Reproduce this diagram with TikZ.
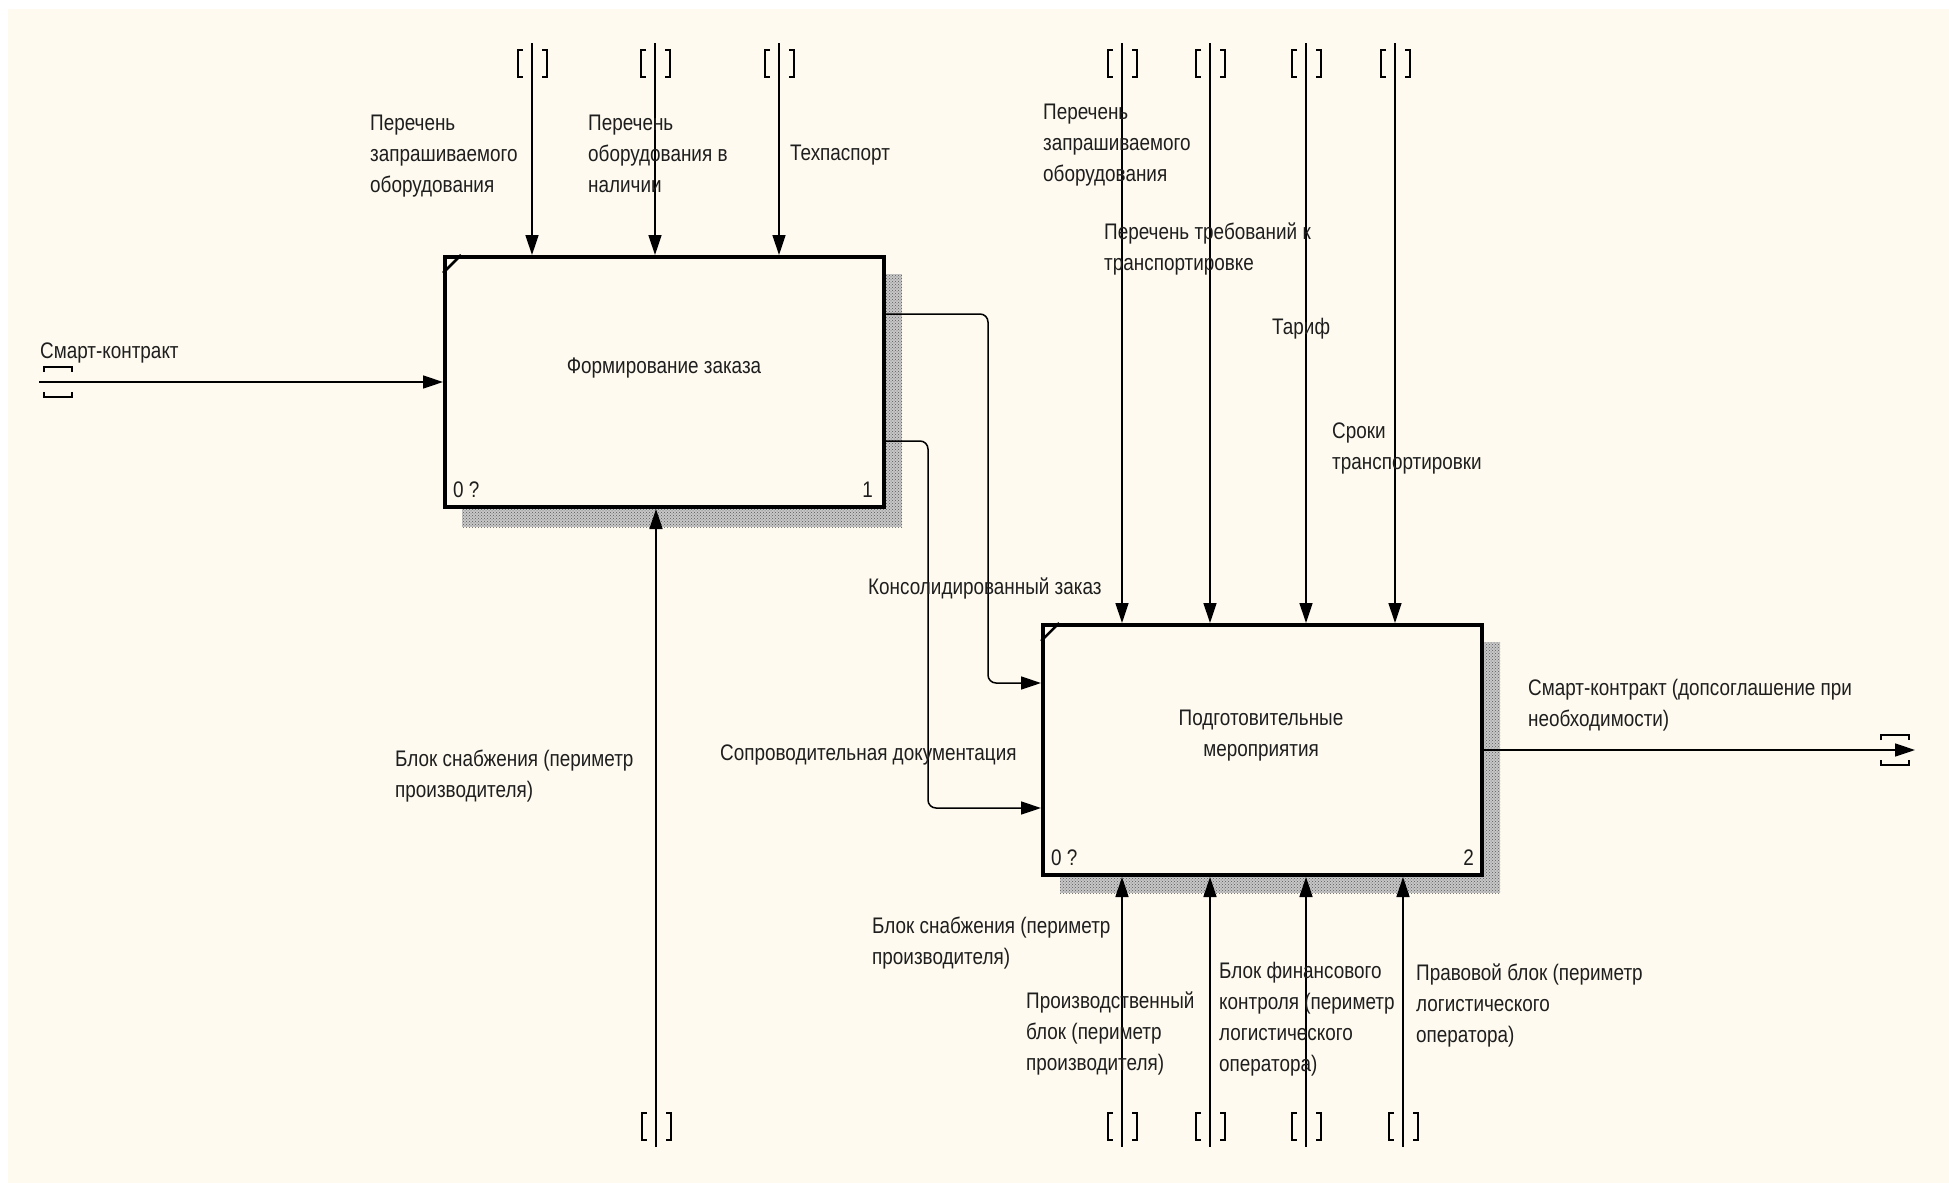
\documentclass[tikz,border=0pt]{standalone}
\usepackage{fontspec}
\setmainfont{Liberation Sans}[FakeStretch=0.84]
\usetikzlibrary{arrows.meta,patterns}

\definecolor{paper}{RGB}{254,250,239}
\definecolor{ink}{RGB}{30,30,30}
\newcommand\idefsize{\fontsize{22.5}{31}\selectfont}

\tikzset{
  actbox/.style={draw=black, line width=4pt, fill=paper,
    minimum width=439pt, minimum height=250pt, inner sep=0pt},
  boxshade/.style={pattern=crosshatch dots, pattern color=black!65},
  flow/.style={draw=black, line width=1.5pt, -{Triangle[length=20pt,width=13pt]}},
  % multi-line labels are placed by the baseline of their last line
  lbl/.style={inner sep=0pt, anchor=base west, align=left, font=\idefsize, text=ink},
  ttl/.style={inner sep=0pt, anchor=base, align=center, font=\idefsize, text=ink},
  tunnelline/.style={draw=black, line width=1.4pt},
  vtunnel/.pic={
    \draw[tunnelline] (-9,-13.5) -- (-14,-13.5) -- (-14,13.5) -- (-9,13.5)
                      (10,-13.5) -- (15,-13.5) -- (15,13.5) -- (10,13.5);},
  htunnel/.pic={
    \draw[tunnelline] (0,-10) -- (0,-15) -- (28,-15) -- (28,-10)
                      (0,10) -- (0,15) -- (28,15) -- (28,10);}
}

\begin{document}
\begin{tikzpicture}[x=1pt, y=-1pt]
  \useasboundingbox (0,0) rectangle (1949,1183);
  \fill[white] (0,0) rectangle (1949,1183);
  \fill[paper] (8,9) rectangle (1949,1183);

  % activity boxes with hatched shadows
  \fill[black!22] (462,274) rectangle (902,527);
  \fill[boxshade] (462,274) rectangle (902,527);
  \fill[black!22] (1060,642) rectangle (1500,893);
  \fill[boxshade] (1060,642) rectangle (1500,893);
  \node[actbox] (A1) at (664.5,382) {};
  \node[actbox] (A2) at (1262.5,750) {};
  \draw[line width=2.5pt] ([yshift=-18pt]A1.north west) -- ([xshift=18pt]A1.north west);
  \draw[line width=2.5pt] ([yshift=-18pt]A2.north west) -- ([xshift=18pt]A2.north west);

  \node[ttl] (A1t) at (664,373) {Формирование заказа};
  \node[ttl] (A2t) at (1261,756) {Подготовительные\\мероприятия};
  \node[lbl] (A1n) at (453,497) {0 ?};
  \node[lbl, anchor=base east] (A1i) at (873,497) {1};
  \node[lbl] (A2n) at (1051,865) {0 ?};
  \node[lbl, anchor=base east] (A2i) at (1474,865) {2};

  % controls of the first activity
  \coordinate (c1) at (532,43);
  \coordinate (c2) at (655,43);
  \coordinate (c3) at (779,43);
  \foreach \c in {c1,c2,c3} {
    \draw[flow] (\c) -- (\c |- A1.north);
    \pic at ([yshift=-20.5pt]\c) {vtunnel};
  }

  % controls of the second activity
  \coordinate (d1) at (1122,43);
  \coordinate (d2) at (1210,43);
  \coordinate (d3) at (1306,43);
  \coordinate (d4) at (1395,43);
  \foreach \c in {d1,d2,d3,d4} {
    \draw[flow] (\c) -- (\c |- A2.north);
    \pic at ([yshift=-20.5pt]\c) {vtunnel};
  }

  % mechanisms
  \coordinate (m0) at (656,1147);
  \coordinate (m1) at (1122,1147);
  \coordinate (m2) at (1210,1147);
  \coordinate (m3) at (1306,1147);
  \coordinate (m4) at (1403,1147);
  \draw[flow] (m0) -- (m0 |- A1.south);
  \pic at ([yshift=20.5pt]m0) {vtunnel};
  \foreach \c in {m1,m2,m3,m4} {
    \draw[flow] (\c) -- (\c |- A2.south);
    \pic at ([yshift=20.5pt]\c) {vtunnel};
  }

  % input and output
  \coordinate (in1) at (39,382);
  \draw[flow] (in1) -- (in1 -| A1.west);
  \pic at (44,382) {htunnel};
  \coordinate (out2) at (1915,750);
  \draw[flow] (A2.east |- out2) -- (out2);
  \pic at (1881,750) {htunnel};

  % links between the activities
  \coordinate (k1) at (988,314);
  \coordinate (k2) at (988,683);
  \draw[flow, rounded corners=8pt] (A1.east |- k1) -- (k1) -- (k2) -- (A2.west |- k2);
  \coordinate (s1) at (928,441);
  \coordinate (s2) at (928,808);
  \draw[flow, rounded corners=8pt] (A1.east |- s1) -- (s1) -- (s2) -- (A2.west |- s2);

  % arrow labels
  \node[lbl] (l1) at (370,192) {Перечень\\запрашиваемого\\оборудования};
  \node[lbl] (l2) at (588,192) {Перечень\\оборудования в\\наличии};
  \node[lbl] (l3) at (790,160) {Техпаспорт};
  \node[lbl] (l4) at (40,358) {Смарт-контракт};
  \node[lbl] (l5) at (1043,181) {Перечень\\запрашиваемого\\оборудования};
  \node[lbl] (l6) at (1104,270) {Перечень требований к\\транспортировке};
  \node[lbl] (l7) at (1272,334) {Тариф};
  \node[lbl] (l8) at (1332,469) {Сроки\\транспортировки};
  \node[lbl] (l9) at (868,594) {Консолидированный заказ};
  \node[lbl] (l10) at (720,760) {Сопроводительная документация};
  \node[lbl] (l11) at (395,797) {Блок снабжения (периметр\\производителя)};
  \node[lbl] (l12) at (1528,726) {Смарт-контракт (допсоглашение при\\необходимости)};
  \node[lbl] (l13) at (872,964) {Блок снабжения (периметр\\производителя)};
  \node[lbl] (l14) at (1026,1070) {Производственный\\блок (периметр\\производителя)};
  \node[lbl] (l15) at (1219,1071) {Блок финансового\\контроля (периметр\\логистического\\оператора)};
  \node[lbl] (l16) at (1416,1042) {Правовой блок (периметр\\логистического\\оператора)};
\end{tikzpicture}
\end{document}
